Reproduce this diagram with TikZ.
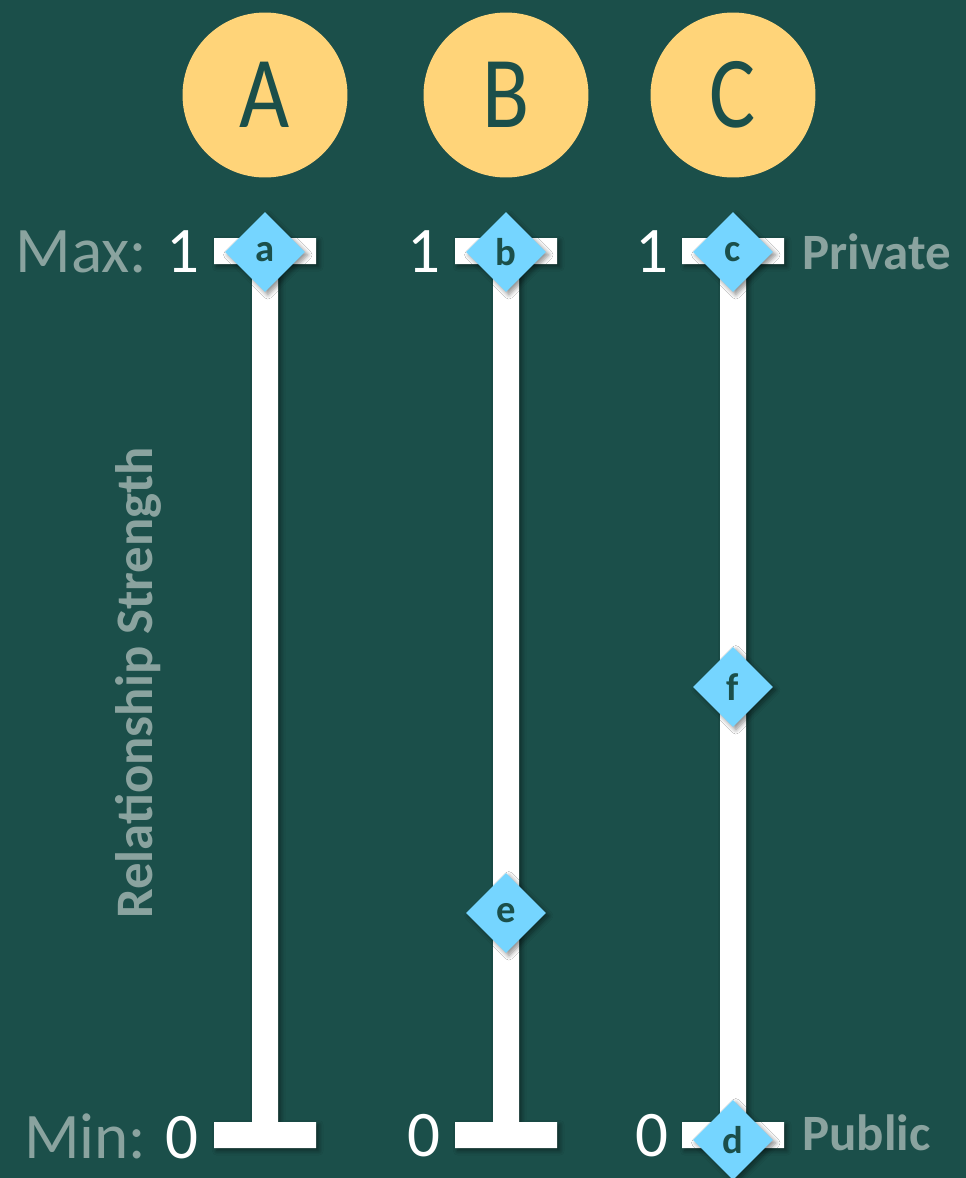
\documentclass[tikz,border=0pt]{standalone}
\usepackage{fontspec}
\setmainfont{Carlito}
\usepackage{tikz}
\usetikzlibrary{shapes.geometric}
\usetikzlibrary{shadows.blur}

\definecolor{bgteal}{HTML}{1B4F4A}
\definecolor{sun}{HTML}{FFD479}
\definecolor{sky}{HTML}{75D5FF}
\definecolor{mist}{HTML}{8AA39F}

\begin{document}
\begin{tikzpicture}[x=0.02cm, y=-0.02cm,
        softshadow/.style={blur shadow={shadow xshift=1.6pt, shadow yshift=-1.6pt,
                shadow blur radius=2.5pt, shadow blur steps=6, shadow opacity=45}},
        person/.style={circle, fill=sun, minimum size=3.3cm, inner sep=0pt,
                text=bgteal, font=\fontsize{58}{58}\selectfont},
        marker/.style={diamond, aspect=1, fill=sky, minimum width=1.6cm,
                minimum height=1.6cm, inner sep=0pt, text=bgteal, softshadow,
                font=\fontsize{22}{22}\selectfont\bfseries},
        tick/.style={anchor=east, inner sep=0pt, text=white,
                font=\fontsize{37}{37}\selectfont},
        side/.style={anchor=west, inner sep=0pt, text=mist,
                font=\fontsize{29}{29}\selectfont\bfseries}]
                \useasboundingbox (0,0) rectangle (966,1178);
                \fill[bgteal] (0,0) rectangle (966,1178);
                % the three people
                \node[person] (A) at (265,95) {\scalebox{0.85}[1]{A}};
                \node[person] (B) at (506,95) {\scalebox{0.85}[1]{B}};
                \node[person] (C) at (733,95) {\scalebox{0.85}[1]{C}};
                % scales
                \foreach \cx in {265,506,733}
                    \fill[white, softshadow] (\cx-51,238) -- (\cx+51,238) -- (\cx+51,264)
                        -- (\cx+13,264) -- (\cx+13,1122) -- (\cx+51,1122) -- (\cx+51,1148)
                        -- (\cx-51,1148) -- (\cx-51,1122) -- (\cx-13,1122) -- (\cx-13,264)
                        -- (\cx-51,264) -- cycle;
                \node[tick] (maxA) at (200,252) {\textcolor{mist}{Max:}\hspace{0.3em}1};
                \node[tick] (maxB) at (441,252) {1};
                \node[tick] (maxC) at (669,252) {1};
                \node[tick] (minA) at (199,1136) {\textcolor{mist}{Min:}\hspace{0.3em}0};
                \node[tick] (minB) at (441,1136) {0};
                \node[tick] (minC) at (669,1136) {0};
                \node[side] (private) at (802,252) {Private};
                \node[side] (public) at (802,1133) {Public};
                \node[text=mist, rotate=90, font=\fontsize{30}{30}\selectfont\bfseries]
                    (strength) at (138,683) {Relationship Strength};
                % positions
                \node[marker] (a) at (265,252) {a};
                \node[marker] (b) at (506,252) {b};
                \node[marker] (c) at (733,252) {c};
                \node[marker] (f) at (733,687) {f};
                \node[marker] (e) at (506,913) {e};
                \node[marker] (d) at (733,1140) {d};
            \end{tikzpicture}
\end{document}
